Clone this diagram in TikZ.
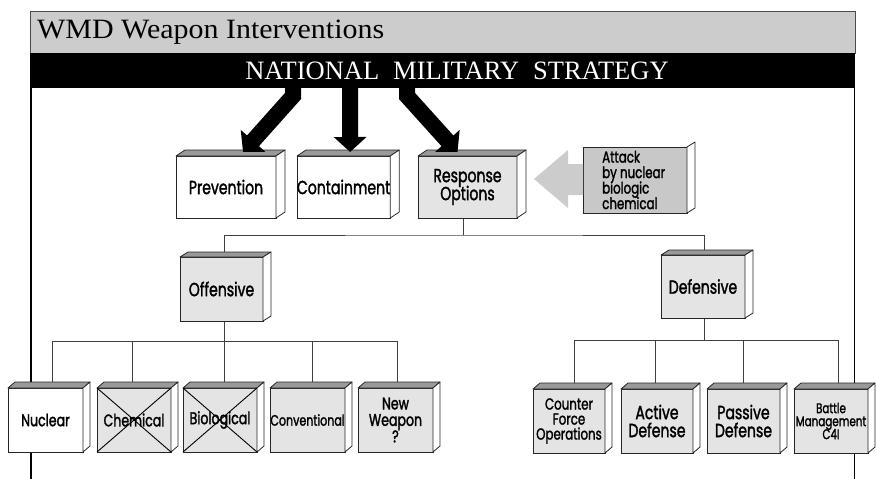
\documentclass[tikz,border=0pt]{standalone}
\usepackage{fontspec}
\setmainfont{Liberation Serif}
\newfontfamily\bxfont[FakeStretch=0.74,FakeBold=1.6]{Poppins}
\newfontfamily\ttlfont[FakeStretch=1.07]{Liberation Serif}
\newcommand\nols{\lineskiplimit=-20pt\relax}
\usetikzlibrary{calc,arrows.meta}
\pgfdeclarelayer{bg}
\pgfsetlayers{bg,main}
\definecolor{bandgray}{HTML}{CCCCCC}
\definecolor{topgray}{HTML}{999999}
\definecolor{frontgray}{HTML}{E4E4E4}
\definecolor{attgray}{HTML}{C8C8C8}
\definecolor{arrgray}{HTML}{CCCCCC}
\tikzset{
  cube/.style={draw=black!85, line width=0.8pt, inner sep=0pt, outer sep=0pt, align=center},
  topface/.style={draw=black!85, line width=0.8pt, fill=topgray, line join=round},
  sideface/.style={draw=black!85, line width=0.8pt, fill=white, line join=round},
  conn/.style={draw=black!75, line width=0.9pt},
  framel/.style={draw=black, line width=1.2pt},
  bigarrow/.style={line width=16pt, line join=miter, -{Triangle[width=32pt,length=15pt]}},
  fA/.style={font=\bxfont\fontsize{19}{18}\selectfont\nols},
  fB/.style={font=\bxfont\fontsize{17}{16}\selectfont\nols},
}
\newcommand\cbox[8]{% name, x1, y1, x2, y2, fill, style, text
  \node[cube, fill=#6, #7, minimum width={#4-#2}, minimum height={#5-#3}, anchor=north west] (#1) at (#2,#3) {#8};
  \draw[topface] (#1.north west) -- ++(\dx,-\dy) -- ($(#1.north east)+(\dx,-\dy)$) -- (#1.north east) -- cycle;
  \draw[sideface] (#1.north east) -- ++(\dx,-\dy) -- ($(#1.south east)+(\dx,-\dy)$) -- (#1.south east) -- cycle;
}
\begin{document}
\begin{tikzpicture}[x=1pt,y=-1pt]
\useasboundingbox (0,0) rectangle (876,479);
% title band
\node[draw=black!70, line width=1pt, fill=bandgray, minimum width=825, minimum height=42, anchor=north west, inner sep=0pt, outer sep=0pt] (title) at (30,11) {};
\node[anchor=west, inner sep=0pt, font=\ttlfont\fontsize{28}{30}\selectfont] (ttext) at (37,32) {WMD Weapon Interventions};
\node[fill=black, minimum width=825, minimum height=35, anchor=north west, inner sep=0pt, outer sep=0pt] (nms) at (30,53) {};
\node[text=white, inner sep=0pt, font=\fontsize{26.5}{28}\selectfont] (nmstext) at (457,71) {NATIONAL\hspace{14pt}MILITARY\hspace{14pt}STRATEGY};
% frame lines
\draw[framel] ([xshift=1pt]nms.south west) -- ++(0,392);
\draw[framel] ([xshift=-0.5pt]nms.south east) -- ++(0,392);
% top row
\def\dx{9}\def\dy{6}
\cbox{prev}{176}{156}{276}{218}{white}{fA}{Prevention}
\cbox{cont}{297}{156}{390}{218}{white}{fA}{Containment}
\cbox{resp}{418}{156}{517}{218}{frontgray}{fA}{Response\\Options}
% attack box
\node[draw=black!85, line width=0.8pt, fill=attgray, minimum width=104, minimum height=66, anchor=north west, inner sep=0pt, outer sep=0pt] (att) at (583,147) {};
\draw[sideface] (att.north east) -- ++(8,-5) -- ($(att.south east)+(8,-5)$) -- (att.south east) -- cycle;
\node[anchor=west, align=left, inner sep=0pt, font=\bxfont\fontsize{16}{15.5}\selectfont\nols] (atttext) at (602,180) {Attack\\by nuclear\\biologic\\chemical};
\fill[arrgray] ($(att.west)+(0,-16)$) -- ++(-15,0) -- ++(0,-14) -- ++(-34,29) -- ++(34,29) -- ++(0,-13) -- ++(15,0) -- cycle;
% middle row
\def\dx{8}\def\dy{5}
\cbox{off}{180}{257}{263}{321}{frontgray}{fA}{Offensive}
\cbox{def}{661}{255}{745}{318}{frontgray}{fA}{Defensive}
% bottom row
\def\dx{7}\def\dy{6}
\cbox{nuc}{8}{388}{83}{452}{white}{fB}{Nuclear}
\cbox{chem}{97}{388}{171}{452}{frontgray}{fB}{Chemical}
\draw[line width=0.9pt] (chem.north west) -- (chem.south east) (chem.north east) -- (chem.south west);
\cbox{bio}{183}{388}{257}{452}{frontgray}{fB}{Biological}
\draw[line width=0.9pt] (bio.north west) -- (bio.south east) (bio.north east) -- (bio.south west);
\cbox{conv}{270}{388}{345}{452}{frontgray}{font=\bxfont\fontsize{15}{15}\selectfont}{Conventional}
\cbox{neww}{358}{388}{433}{452}{frontgray}{font=\bxfont\fontsize{17}{16.5}\selectfont\nols}{New\\Weapon\\?}
\cbox{cfo}{533}{389}{605}{453}{frontgray}{font=\bxfont\fontsize{16}{15}\selectfont\nols}{Counter\\Force\\Operations}
\cbox{act}{621}{389}{693}{453}{frontgray}{font=\bxfont\fontsize{19}{18}\selectfont\nols}{Active\\Defense}
\cbox{pas}{707}{389}{780}{453}{frontgray}{font=\bxfont\fontsize{19}{18}\selectfont\nols}{Passive\\Defense}
\cbox{bat}{794}{389}{868}{453}{frontgray}{font=\bxfont\fontsize{14}{13}\selectfont\nols}{Battle\\Management\\C4I}
% connectors
\begin{pgfonlayer}{bg}
\draw[conn] ([xshift=-4pt]resp.south) -- ++(0,17) coordinate (tb);
\draw[conn] ([xshift=3pt]off.north) |- (tb) -| ([xshift=1pt]def.north);
\draw[conn] ([xshift=3pt]off.south) -- ([xshift=3pt]off.south |- bio.north);
\draw[conn] ([xshift=6.5pt]nuc.north) |- ($(neww.north)+(1.5,-47)$) -- ([xshift=1.5pt]neww.north);
\draw[conn] ([xshift=-2pt]chem.north) -- ++(0,-47);
\draw[conn] ([xshift=4.5pt]conv.north) -- ++(0,-47);
\draw[conn] ([xshift=1pt]def.south) -- ++(0,22);
\draw[conn] ([xshift=5pt]cfo.north) |- ($(bat.north)+(7,-49)$) -- ([xshift=7pt]bat.north);
\draw[conn] ([xshift=-2pt]act.north) -- ++(0,-49);
\draw[conn] ([xshift=-0.5pt]pas.north) -- ++(0,-49);
\end{pgfonlayer}
% big black arrows
\coordinate (a1) at (293,80);
\coordinate (a2) at (350,80);
\coordinate (a3) at (407,80);
\draw[bigarrow] (a1) -- (293,96) -- ($(prev.north)+(17,-4)$);
\draw[bigarrow] (a2) -- ($(cont.north)+(6.5,-4)$);
\draw[bigarrow] (a3) -- (407,96) -- ($(resp.north)+(-10,-4)$);
\end{tikzpicture}
\end{document}
